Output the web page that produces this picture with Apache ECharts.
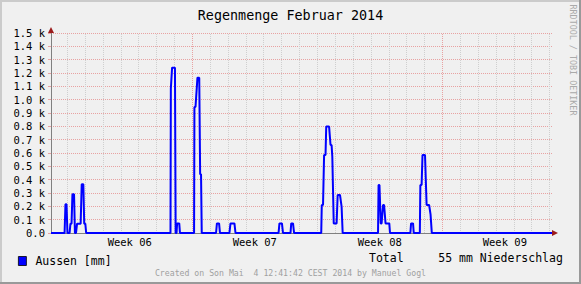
<!DOCTYPE html>
<html><head><meta charset="utf-8">
<script src="https://cdn.jsdelivr.net/npm/echarts/dist/echarts.min.js"></script>
<style>html,body{margin:0;padding:0;background:#F0F0F0}#c{width:581px;height:284px}</style>
</head><body><div id="c"></div>
<script>
// ---- data (x = days from left edge of the plot, y = rain amount) ----
const chartTitle = 'Regenmenge Februar 2014';
const seriesName = 'Aussen [mm]';
const times = [
  0, 0.76, 0.81, 0.87, 0.92, 1.04, 1.09, 1.15, 1.20, 1.29, 1.34, 1.40, 1.46, 1.66, 1.72, 1.81, 1.86, 1.92, 1.97,
  6.69, 6.71, 6.78, 6.94, 6.98, 7.03, 7.06, 7.18, 7.22,
  8.01, 8.03, 8.09, 8.20, 8.30, 8.35, 8.40, 8.44,
  9.24, 9.29, 9.41, 9.46, 9.99, 10.05, 10.27, 10.33,
  12.74, 12.79, 12.93, 12.99, 13.41, 13.45, 13.55, 13.61,
  15.13, 15.16, 15.23, 15.29, 15.37, 15.41, 15.57, 15.65, 15.71, 15.75, 15.83, 15.99, 16.05, 16.18, 16.27, 16.33,
  18.31, 18.34, 18.39, 18.46, 18.51, 18.59, 18.65, 18.73, 18.94, 18.98,
  20.12, 20.16, 20.27, 20.31,
  20.65, 20.68, 20.75, 20.80, 20.94, 21.03, 21.17, 21.25, 21.28, 21.32,
  28.05
];
const rain = [
  0, 0, 215, 215, 0, 0, 70, 70, 290, 290, 0, 0, 70, 70, 365, 365, 70, 70, 0,
  0, 1085, 1240, 1240, 0, 0, 72, 72, 0,
  0, 945, 945, 1165, 1165, 440, 440, 0,
  0, 72, 72, 0, 0, 72, 72, 0,
  0, 72, 72, 0, 0, 72, 72, 0,
  0, 210, 210, 585, 585, 798, 798, 660, 660, 573, 72, 72, 285, 285, 198, 0,
  0, 360, 360, 72, 72, 210, 210, 72, 72, 0,
  0, 72, 72, 0,
  0, 360, 360, 585, 585, 210, 210, 140, 140, 0,
  0
];
const xMax = 28.05;
const weekLabels = ['Week 06', 'Week 07', 'Week 08', 'Week 09'];
const weekCenters = [4.41, 11.41, 18.41, 25.41];
const firstDayLine = 0.913;           // first midnight line inside the plot
const majorDays = [7, 21];            // indices of day lines drawn as red major lines
const yMax = 1500, yStep = 100;
const legendTotal = 'Total     55 mm Niederschlag';
const footer = 'Created on Son Mai  4 12:41:42 CEST 2014 by Manuel Gogl';
const sideText = 'RRDTOOL / TOBI OETIKER';

// ---- grid lines for days ----
const dayLines = [];
for (let k = 0; firstDayLine + k < xMax; k++) dayLines.push({ v: firstDayLine + k, major: majorDays.includes(k) });

const MONO = '"DejaVu Sans Mono", monospace';
const MGRID = '#E8A2A2', GRID = '#CFCFCF';

const chart = echarts.init(document.getElementById('c'), null, { renderer: 'svg' });
chart.setOption({
  backgroundColor: '#F0F0F0',
  animation: false,
  title: {
    text: chartTitle, left: 'center', top: 4,
    textStyle: { fontFamily: MONO, fontSize: 13.4, fontWeight: 'normal', color: '#000' }
  },
  legend: {
    data: [seriesName], left: 13, top: 250, icon: 'rect', itemWidth: 8, itemHeight: 9,
    selectedMode: false,
    itemStyle: { borderColor: '#000', borderWidth: 0.8 },
    textStyle: { fontFamily: MONO, fontSize: 11.5, color: '#000', padding: [0, 0, 0, 4] }
  },
  grid: { left: 51, right: 29, top: 33, bottom: 51, containLabel: false },
  xAxis: {
    type: 'value', min: 0, max: xMax,
    axisLine: { show: true, lineStyle: { color: '#808080', width: 1 } },
    axisTick: { show: false },
    splitLine: { show: false },
    axisLabel: {
      customValues: weekCenters, margin: 3,
      fontFamily: MONO, fontSize: 10.5, color: '#000',
      formatter: v => { const i = weekCenters.findIndex(c => Math.abs(c - v) < 1e-6); return i >= 0 ? weekLabels[i] : ''; }
    }
  },
  yAxis: {
    type: 'value', min: 0, max: yMax, interval: yStep,
    axisLine: { show: true, lineStyle: { color: '#808080', width: 1 } },
    axisTick: { show: true, length: 3, lineStyle: { color: MGRID } },
    splitLine: { show: true, lineStyle: { color: MGRID, type: [1, 1], width: 1 } },
    axisLabel: {
      margin: 6, fontFamily: MONO, fontSize: 10.5, color: '#000',
      formatter: v => v === 0 ? '0.0' : (v / 1000).toFixed(1) + ' k'
    }
  },
  series: [
    {
      type: 'line', name: 'grid', data: [], silent: true, z: 1,
      markLine: {
        silent: true, symbol: ['none', 'none'], label: { show: false }, animation: false,
        data: dayLines.map(l => ({ xAxis: l.v, lineStyle: { color: l.major ? MGRID : GRID, type: [1, 1], width: 1 } }))
      }
    },
    {
      type: 'line', name: seriesName, z: 5,
      data: times.map((t, i) => [t, rain[i]]),
      showSymbol: false, symbol: 'none',
      lineStyle: { color: '#0000FF', width: 2 },
      itemStyle: { color: '#0000FF' },
      markPoint: {
        silent: true, symbol: 'triangle', label: { show: false }, animation: false,
        itemStyle: { color: '#9B1C1C' },
        data: [
          { coord: [0, yMax], symbolSize: [6, 6], symbolOffset: [0, -3] },
          { coord: [xMax, 0], symbolSize: [6, 6], symbolRotate: -90, symbolOffset: [3, 0] }
        ]
      }
    }
  ],
  graphic: [
    { type: 'rect', shape: { x: 0, y: 0, width: 581, height: 2 }, style: { fill: '#CBCBCB' }, silent: true },
    { type: 'rect', shape: { x: 0, y: 0, width: 2, height: 284 }, style: { fill: '#CBCBCB' }, silent: true },
    { type: 'rect', shape: { x: 0, y: 282, width: 581, height: 2 }, style: { fill: '#999999' }, silent: true },
    { type: 'rect', shape: { x: 579, y: 0, width: 2, height: 284 }, style: { fill: '#999999' }, silent: true },
    { type: 'text', x: 369, y: 258, silent: true,
      style: { text: legendTotal, font: '11.5px ' + MONO, fill: '#000', textVerticalAlign: 'middle' } },
    { type: 'text', x: 290.5, y: 273, silent: true,
      style: { text: footer, font: '8.2px ' + MONO, fill: '#A0A0A0', textAlign: 'center', textVerticalAlign: 'middle' } },
    { type: 'text', x: 572.5, y: 60, rotation: -Math.PI / 2, silent: true,
      style: { text: sideText, font: '8.4px ' + MONO, fill: '#AAAAAA', textAlign: 'center', textVerticalAlign: 'middle' } }
  ]
});
</script>
</body></html>
